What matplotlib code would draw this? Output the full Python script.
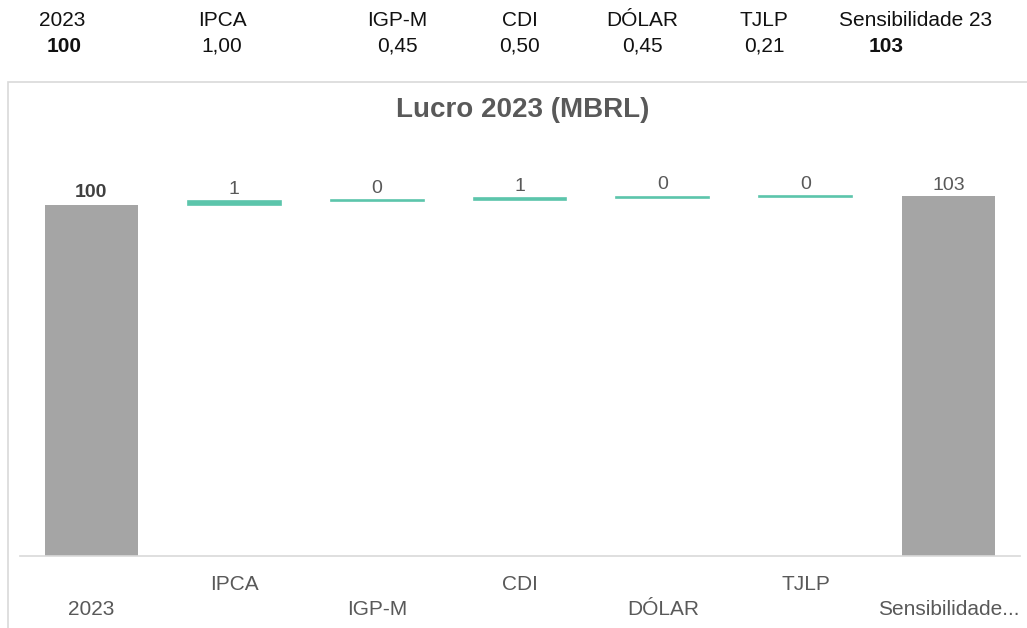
import math
import matplotlib.pyplot as plt
from matplotlib.patches import Rectangle

plt.rcParams['font.family'] = ['Liberation Sans', 'DejaVu Sans']

# data
start_label = '2023'
start_value = 100
drivers = ['IPCA', 'IGP-M', 'CDI', 'DÓLAR', 'TJLP']
deltas = [1.00, 0.45, 0.50, 0.45, 0.21]
end_label = 'Sensibilidade 23'
end_tick = 'Sensibilidade...'
end_value = start_value + sum(deltas)

header_labels = ['2023', 'IPCA', 'IGP-M', 'CDI', 'DÓLAR', 'TJLP', 'Sensibilidade 23']
header_values = ['100', '1,00', '0,45', '0,50', '0,45', '0,21', '103']

gray = '#a5a5a5'
green = '#5cc5ab'
txt = '#595959'

W, H = 1027, 628
fig = plt.figure(figsize=(W / 100, H / 100), dpi=100)


def fx(px):
    return px / W


def fy(py):
    return 1 - py / H


# summary row above the chart
head_x = [62, 222, 397, 520, 642, 764, 916]
val_x = [64, 222, 397, 520, 642, 764, 886]
for i, (lab, val) in enumerate(zip(header_labels, header_values)):
    fig.text(fx(head_x[i]), fy(20), lab, ha='center', va='center', fontsize=15, color='#111111')
    bold = i in (0, len(header_labels) - 1)
    fig.text(fx(val_x[i]), fy(46), val, ha='center', va='center', fontsize=15,
             color='#111111', fontweight='bold' if bold else 'normal')

# chart frame
fig.patches.append(Rectangle((fx(8), fy(700)), fx(1040), fy(82) - fy(700), transform=fig.transFigure,
                             facecolor='white', edgecolor='#d9d9d9', linewidth=1.2, zorder=-5))

ax = fig.add_axes([fx(20), fy(556), fx(1000), fy(150) - fy(556)])
ax.set_facecolor('none')
ax.set_zorder(2)

cats = [start_label] + drivers + [end_label]
x = list(range(len(cats)))
bw = 0.65

ax.bar(x[0], start_value, width=bw, color=gray)
ax.text(x[0], start_value + 1.0, str(start_value), ha='center', va='bottom',
        fontsize=14, color='#404040', fontweight='bold')

level = start_value
for i, d in enumerate(deltas, start=1):
    ax.bar(x[i], d, bottom=level, width=bw, color=green, edgecolor=green, linewidth=1.2)
    ax.text(x[i], level + d + 0.9, str(math.floor(d + 0.5)), ha='center', va='bottom',
            fontsize=14, color=txt)
    level += d

ax.bar(x[-1], end_value, width=bw, color=gray)
ax.text(x[-1], end_value + 0.5, str(math.floor(end_value + 0.5)), ha='center', va='bottom',
        fontsize=14, color=txt)

ax.set_xlim(-0.5, len(cats) - 0.5)
ax.set_ylim(0, (556 - 150) / 3.51)
for s in ['top', 'left', 'right']:
    ax.spines[s].set_visible(False)
ax.spines['bottom'].set_color('#d9d9d9')
ax.spines['bottom'].set_linewidth(1.2)
ax.set_yticks([])

ticks = cats[:-1] + [end_tick]
ax.set_xticks(x)
ax.set_xticklabels(ticks, fontsize=15, color=txt)
ax.tick_params(axis='x', length=0)
for i, t in enumerate(ax.xaxis.get_major_ticks()):
    t.set_pad(14 if i % 2 == 1 else 32)

fig.text(fx(523), fy(110), 'Lucro 2023 (MBRL)', ha='center', va='center',
         fontsize=20, fontweight='bold', color=txt)

fig.savefig('out.png', dpi=100)
